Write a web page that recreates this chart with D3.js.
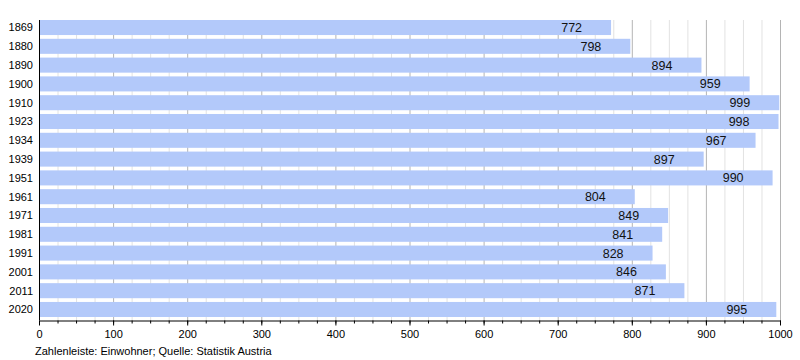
<!DOCTYPE html>
<html>
<head>
<meta charset="utf-8">
<script src="https://cdn.jsdelivr.net/npm/d3@7"></script>
<style>
  body { margin: 0; background: #fff; }
  text { font-family: "Liberation Sans", Arial, sans-serif; }
</style>
</head>
<body>
<script>
// population per census year
var years = ['1869', '1880', '1890', '1900', '1910', '1923', '1934', '1939',
    '1951', '1961', '1971', '1981', '1991', '2001', '2011', '2020'];
var residents = [772, 798, 894, 959, 999, 998, 967, 897,
    990, 804, 849, 841, 828, 846, 871, 995];
var majorTicks = [0, 100, 200, 300, 400, 500, 600, 700, 800, 900, 1000];
var minorTicks = d3.range(0, 1001, 25);

var width = 800, height = 360;
var plotLeft = 39, plotRight = 780, plotTop = 20, plotBottom = 320;

var svg = d3.select('body')
    .append('svg')
    .attr('width', width)
    .attr('height', height);

var x = d3.scaleLinear().domain([0, 1000]).range([plotLeft, plotRight]);
var y = d3.scaleBand().domain(years).range([plotTop, 317])
    .paddingInner(0.2).paddingOuter(0);

// grid
svg.append('g')
    .selectAll('line')
    .data(minorTicks.filter(function (d) { return d % 100 !== 0; }))
    .enter()
    .append('line')
    .attr('x1', function (d) { return x(d) + 0.5; })
    .attr('x2', function (d) { return x(d) + 0.5; })
    .attr('y1', plotTop)
    .attr('y2', plotBottom)
    .style('stroke', '#e2e2e2');

svg.append('g')
    .selectAll('line')
    .data(majorTicks.slice(1))
    .enter()
    .append('line')
    .attr('x1', function (d) { return x(d) + 0.5; })
    .attr('x2', function (d) { return x(d) + 0.5; })
    .attr('y1', plotTop)
    .attr('y2', plotBottom)
    .style('stroke', '#b4b4b4');

// bars
svg.append('g')
    .selectAll('rect')
    .data(residents)
    .enter()
    .append('rect')
    .attr('x', x(0))
    .attr('y', function (d, i) { return y(years[i]); })
    .attr('width', function (d) { return x(d) - x(0); })
    .attr('height', y.bandwidth())
    .style('fill', '#b3c9fa');

// value labels
svg.append('g')
    .selectAll('text')
    .data(residents)
    .enter()
    .append('text')
    .attr('x', function (d) { return x(d) - 29; })
    .attr('y', function (d, i) { return y(years[i]) + y.bandwidth() / 2; })
    .attr('dy', '0.36em')
    .attr('text-anchor', 'end')
    .style('font-size', '12.5px')
    .style('fill', '#111')
    .text(function (d) { return d; });

// year labels
svg.append('g')
    .selectAll('text')
    .data(years)
    .enter()
    .append('text')
    .attr('x', 33)
    .attr('y', function (d) { return y(d) + y.bandwidth() / 2; })
    .attr('dy', '0.36em')
    .attr('text-anchor', 'end')
    .style('font-size', '11px')
    .style('fill', '#000')
    .text(function (d) { return d; });

// left axis line
svg.append('line')
    .attr('x1', plotLeft + 0.5).attr('x2', plotLeft + 0.5)
    .attr('y1', plotTop).attr('y2', plotBottom)
    .style('stroke', '#000');

// bottom axis: minor ticks then major ticks with labels
svg.append('g')
    .attr('transform', 'translate(0,' + (plotBottom + 0.5) + ')')
    .call(d3.axisBottom(x).tickValues(minorTicks).tickSize(3).tickFormat(''))
    .call(function (g) { g.select('.domain').remove(); });

var xAxis = svg.append('g')
    .attr('transform', 'translate(0,' + (plotBottom + 0.5) + ')')
    .call(d3.axisBottom(x).tickValues(majorTicks).tickSize(5).tickSizeOuter(0)
        .tickPadding(5).tickFormat(d3.format('d')));
xAxis.select('.domain').style('stroke', '#000');
xAxis.selectAll('text')
    .style('font-family', '"Liberation Sans", Arial, sans-serif')
    .style('font-size', '11px')
    .style('fill', '#000');

svg.append('text')
    .attr('x', 35)
    .attr('y', 355)
    .style('font-size', '11px')
    .style('fill', '#000')
    .text('Zahlenleiste: Einwohner; Quelle: Statistik Austria');
</script>
</body>
</html>
